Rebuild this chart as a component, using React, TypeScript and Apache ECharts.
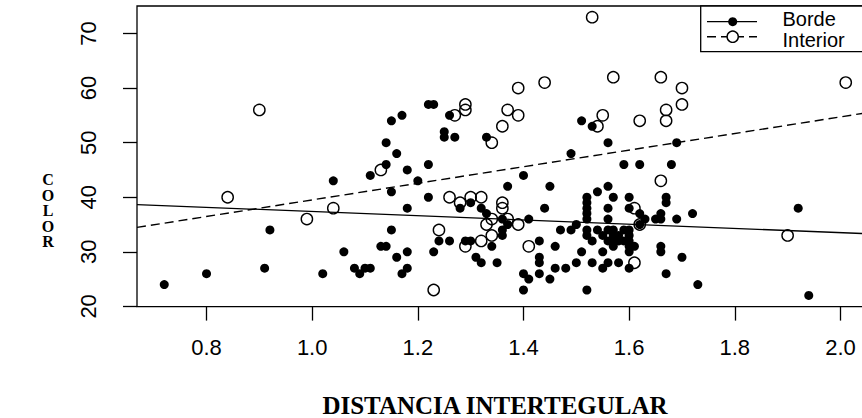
import React, { useEffect, useRef } from "react";
import * as echarts from "echarts";

// Axis tick values
const xTicks = [0.8, 1.0, 1.2, 1.4, 1.6, 1.8, 2.0];
const yTicks = [20, 30, 40, 50, 60, 70];

// Axis ranges (R style: data range extended by 4%)
const xMin = 0.6684;
const xMax = 2.0616;
const yMin = 19.96;
const yMax = 75.04;

// Borde (filled points): [distancia, color]
const bordePoints: [number, number][] = [
  [0.72, 24], [0.8, 26], [0.91, 27], [0.92, 34], [1.02, 26], [1.04, 43], [1.06, 30],
  [1.08, 27], [1.09, 26], [1.1, 27], [1.11, 27], [1.11, 44], [1.13, 31], [1.14, 31],
  [1.14, 46], [1.14, 50], [1.15, 54], [1.15, 41], [1.15, 34], [1.16, 48], [1.16, 29],
  [1.17, 55], [1.17, 26], [1.18, 45], [1.18, 38], [1.18, 30], [1.18, 27], [1.2, 43],
  [1.22, 57], [1.23, 57], [1.22, 46], [1.22, 40], [1.23, 30], [1.24, 32], [1.25, 52],
  [1.25, 51], [1.26, 55], [1.26, 32], [1.27, 51], [1.28, 38], [1.29, 32], [1.3, 39],
  [1.3, 32], [1.31, 29], [1.32, 38], [1.32, 28], [1.33, 51], [1.33, 37], [1.34, 31],
  [1.35, 28], [1.36, 36], [1.36, 34], [1.36, 33], [1.37, 42], [1.37, 35], [1.4, 44],
  [1.4, 26], [1.4, 23], [1.41, 36], [1.41, 25], [1.43, 32], [1.43, 29], [1.43, 28],
  [1.43, 26], [1.44, 38], [1.45, 42], [1.45, 25], [1.46, 31], [1.46, 27], [1.47, 34],
  [1.48, 27], [1.49, 48], [1.49, 34], [1.5, 35], [1.5, 28], [1.51, 54], [1.51, 30],
  [1.52, 40], [1.52, 39], [1.52, 38], [1.52, 37], [1.52, 36], [1.52, 34], [1.52, 33],
  [1.52, 23], [1.53, 53], [1.53, 32], [1.53, 28], [1.54, 41], [1.54, 34], [1.55, 33],
  [1.55, 30], [1.55, 27], [1.56, 50], [1.56, 42], [1.56, 38], [1.56, 36], [1.56, 34],
  [1.56, 32], [1.56, 28], [1.57, 40], [1.57, 34], [1.57, 33], [1.57, 32], [1.57, 31],
  [1.58, 33], [1.58, 32], [1.58, 28], [1.59, 46], [1.59, 34], [1.59, 32], [1.6, 40],
  [1.6, 38], [1.6, 34], [1.6, 33], [1.6, 32], [1.6, 31], [1.6, 30], [1.6, 27], [1.61, 31],
  [1.62, 46], [1.62, 37], [1.62, 35], [1.63, 36], [1.65, 36], [1.66, 37], [1.66, 36],
  [1.66, 31], [1.66, 30], [1.67, 40], [1.67, 39], [1.67, 26], [1.68, 46], [1.69, 50],
  [1.69, 36], [1.7, 29], [1.72, 37], [1.73, 24], [1.92, 38], [1.94, 22],
];

// Interior (open points): [distancia, color]
const interiorPoints: [number, number][] = [
  [0.84, 40], [0.9, 56], [0.99, 36], [1.04, 38], [1.13, 45], [1.23, 23], [1.24, 34],
  [1.26, 40], [1.27, 55], [1.28, 39], [1.29, 57], [1.29, 56], [1.29, 31], [1.3, 40],
  [1.32, 40], [1.32, 32], [1.33, 35], [1.34, 50], [1.34, 36], [1.34, 33], [1.36, 53],
  [1.36, 39], [1.36, 38], [1.37, 56], [1.37, 36], [1.39, 60], [1.39, 55], [1.39, 35],
  [1.41, 31], [1.44, 61], [1.53, 73], [1.54, 53], [1.55, 55], [1.57, 62], [1.61, 38],
  [1.61, 28], [1.62, 54], [1.62, 35], [1.66, 62], [1.66, 43], [1.67, 56], [1.67, 54],
  [1.7, 60], [1.7, 57], [1.9, 33], [2.01, 61],
];

// Fitted lines (intercept, slope)
const bordeFit = { a: 41.25, b: -3.87 };
const interiorFit = { a: 24.3, b: 15.21 };

const legendLabels = ["Borde", "Interior"];

export default function App() {
  const ref = useRef<HTMLDivElement>(null);

  useEffect(() => {
    if (!ref.current) return;
    const chart = echarts.init(ref.current, null, { renderer: "svg" });
    const fitLine = (f: { a: number; b: number }) => [
      [xMin, f.a + f.b * xMin],
      [xMax, f.a + f.b * xMax],
    ];
    const tickFont = {
      fontFamily: "Liberation Sans, Arial, sans-serif",
      fontSize: 22,
      color: "#000",
    };
    chart.setOption({
      animation: false,
      backgroundColor: "#fff",
      grid: {
        left: 137,
        top: 6,
        width: 736,
        height: 300.6,
        show: true,
        borderColor: "#000",
        borderWidth: 1.3,
        backgroundColor: "transparent",
      },
      xAxis: {
        type: "value",
        min: xMin,
        max: xMax,
        splitLine: { show: false },
        axisLine: { show: false },
        axisTick: {
          show: true,
          length: 14,
          lineStyle: { color: "#000", width: 1.3 },
          customValues: xTicks,
        },
        axisLabel: {
          ...tickFont,
          margin: 30,
          customValues: xTicks,
          formatter: (v: number) => v.toFixed(1),
        },
      },
      yAxis: {
        type: "value",
        min: yMin,
        max: yMax,
        splitLine: { show: false },
        axisLine: { show: false },
        axisTick: {
          show: true,
          length: 14,
          lineStyle: { color: "#000", width: 1.3 },
          customValues: yTicks,
        },
        axisLabel: {
          ...tickFont,
          margin: 38,
          rotate: 90,
          customValues: yTicks,
          formatter: (v: number) => String(Math.round(v)),
        },
      },
      series: [
        {
          name: legendLabels[0],
          type: "scatter",
          data: bordePoints,
          symbol: "circle",
          symbolSize: 9,
          itemStyle: { color: "#000", opacity: 1 },
          silent: true,
          emphasis: { disabled: true },
        },
        {
          name: legendLabels[1],
          type: "scatter",
          data: interiorPoints,
          symbol: "circle",
          symbolSize: 11.3,
          itemStyle: {
            color: "rgba(0,0,0,0)",
            borderColor: "#000",
            borderWidth: 1.4,
            opacity: 1,
          },
          silent: true,
          emphasis: { disabled: true },
        },
        {
          type: "line",
          data: fitLine(bordeFit),
          symbol: "none",
          lineStyle: { color: "#000", width: 1.3, type: "solid" },
          silent: true,
        },
        {
          type: "line",
          data: fitLine(interiorFit),
          symbol: "none",
          lineStyle: { color: "#000", width: 1.4, type: [9, 5] },
          silent: true,
        },
      ],
      graphic: [
        {
          type: "text",
          x: 48,
          y: 172,
          style: {
            text: "C\nO\nL\nO\nR",
            font: "bold 16px 'Liberation Serif', 'Times New Roman', serif",
            lineHeight: 15.5,
            fill: "#000",
            align: "center",
            verticalAlign: "top",
          },
        },
        {
          type: "text",
          x: 495,
          y: 405,
          style: {
            text: "DISTANCIA INTERTEGULAR",
            font: "bold 25px 'Liberation Serif', 'Times New Roman', serif",
            fill: "#000",
            align: "center",
            verticalAlign: "middle",
          },
        },
        {
          type: "group",
          children: [
            {
              type: "rect",
              shape: { x: 700.7, y: 6, width: 200, height: 45.7 },
              style: { fill: "#fff", stroke: "#000", lineWidth: 1.3 },
            },
            {
              type: "line",
              shape: { x1: 707, y1: 21.7, x2: 757, y2: 21.7 },
              style: { stroke: "#000", lineWidth: 1.3 },
            },
            {
              type: "circle",
              shape: { cx: 732.7, cy: 21.7, r: 4.5 },
              style: { fill: "#000" },
            },
            {
              type: "line",
              shape: { x1: 707, y1: 36.7, x2: 757, y2: 36.7 },
              style: { stroke: "#000", lineWidth: 1.4, lineDash: [9, 5] },
            },
            {
              type: "circle",
              shape: { cx: 732.7, cy: 36.7, r: 5.6 },
              style: { fill: "#fff", stroke: "#000", lineWidth: 1.4 },
            },
            {
              type: "text",
              x: 782.5,
              y: 19,
              style: {
                text: legendLabels[0],
                font: "20px 'Liberation Sans', Arial, sans-serif",
                fill: "#000",
                verticalAlign: "middle",
              },
            },
            {
              type: "text",
              x: 782.5,
              y: 40,
              style: {
                text: legendLabels[1],
                font: "20px 'Liberation Sans', Arial, sans-serif",
                fill: "#000",
                verticalAlign: "middle",
              },
            },
          ],
        },
      ],
    });
    return () => chart.dispose();
  }, []);

  return (
    <div
      style={{
        position: "fixed",
        left: 0,
        top: 0,
        width: 862,
        height: 418,
        overflow: "hidden",
        background: "#fff",
      }}
    >
      <div ref={ref} style={{ width: 880, height: 418 }} />
    </div>
  );
}
